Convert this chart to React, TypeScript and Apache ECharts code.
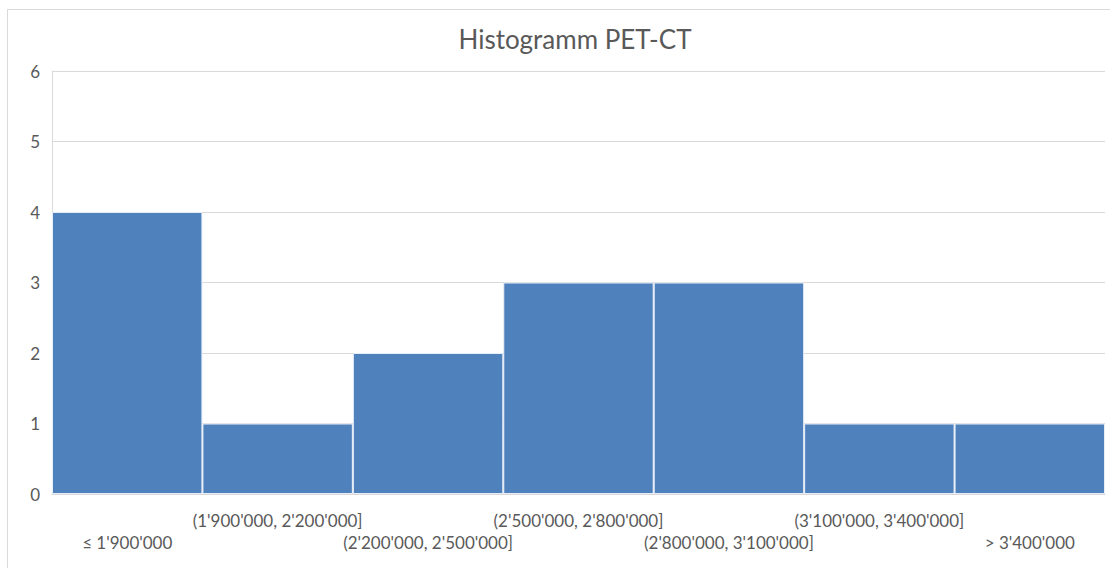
import React, { useEffect, useRef } from "react";
import * as echarts from "echarts";

const categories = [
  "≤ 1'900'000",
  "(1'900'000, 2'200'000]",
  "(2'200'000, 2'500'000]",
  "(2'500'000, 2'800'000]",
  "(2'800'000, 3'100'000]",
  "(3'100'000, 3'400'000]",
  "> 3'400'000",
];
const counts = [4, 1, 2, 3, 3, 1, 1];
const titleText = "Histogramm PET-CT";

export default function App() {
  const ref = useRef<HTMLDivElement>(null);
  useEffect(() => {
    if (!ref.current) return;
    const chart = echarts.init(ref.current, undefined, { renderer: "svg" });
    const font = "Lato, 'Open Sans', sans-serif";
    chart.setOption({
      animation: false,
      backgroundColor: "#ffffff",
      title: {
        text: titleText,
        left: 570,
        top: 21,
        textAlign: "center",
        textStyle: { fontFamily: font, fontSize: 26, fontWeight: "normal", color: "#595959" },
      },
      graphic: [
        {
          type: "rect",
          shape: { x: 7.5, y: 9.5, width: 1200, height: 700 },
          style: { fill: "none", stroke: "#d9d9d9", lineWidth: 1 },
          silent: true,
        },
      ],
      grid: { left: 52, right: 5, top: 71, bottom: 74 },
      xAxis: {
        type: "category",
        data: categories,
        axisLine: { show: true, lineStyle: { color: "#d9d9d9", width: 1 } },
        axisTick: { show: false },
        axisLabel: {
          interval: 0,
          margin: 15,
          fontFamily: font,
          fontSize: 17,
          color: "#595959",
          lineHeight: 22,
          verticalAlign: "top",
          formatter: (v: string, i: number) => (i % 2 === 1 ? v + "\n " : " \n" + v),
        },
      },
      yAxis: {
        type: "value",
        min: 0,
        max: 6,
        interval: 1,
        axisLine: { show: true, lineStyle: { color: "#d9d9d9" } },
        axisTick: { show: false },
        axisLabel: { margin: 12, fontFamily: font, fontSize: 17, color: "#595959" },
        splitLine: { lineStyle: { color: "#d9d9d9", width: 1 } },
      },
      series: [
        {
          type: "bar",
          data: counts,
          barWidth: "100%",
          barCategoryGap: "0%",
          itemStyle: { color: "#4f81bd", borderColor: "#e8eef7", borderWidth: 1 },
        },
      ],
    });
    return () => chart.dispose();
  }, []);
  return (
    <div
      ref={ref}
      style={{ position: "absolute", left: 0, top: 0, width: 1110, height: 568 }}
    />
  );
}
